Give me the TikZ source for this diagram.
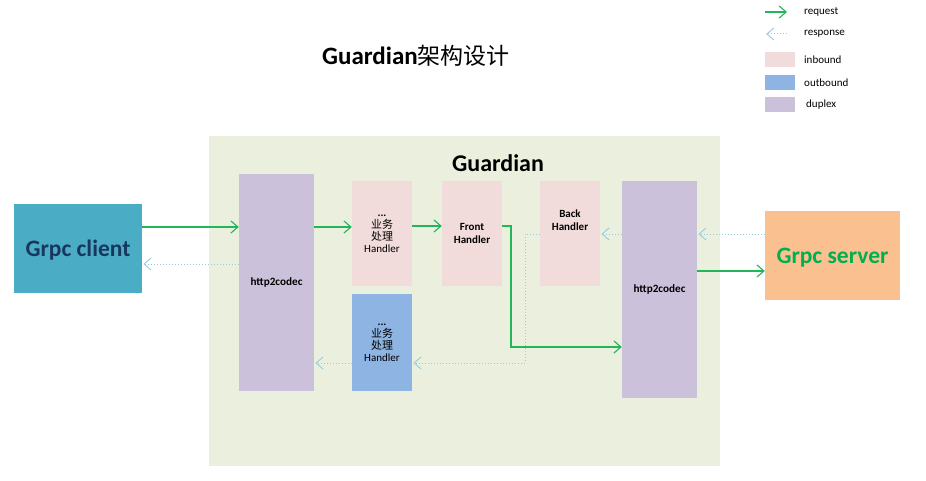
\documentclass[tikz,border=0pt]{standalone}
\usepackage{fontspec}
\setmainfont{Carlito}
\newfontfamily\cjk{Noto Sans CJK SC}
\usetikzlibrary{arrows.meta}
\definecolor{bgG}{HTML}{EBF0DE}
\definecolor{duplexC}{HTML}{CCC1DA}
\definecolor{inC}{HTML}{F2DCDB}
\definecolor{outC}{HTML}{8EB4E3}
\definecolor{clientC}{HTML}{4BACC6}
\definecolor{clientT}{HTML}{17375E}
\definecolor{serverC}{HTML}{FAC090}
\definecolor{serverT}{HTML}{00B050}
\definecolor{reqC}{HTML}{22B55A}
\definecolor{resC}{HTML}{93CDDD}
\tikzset{
  box/.style={rectangle, inner sep=0pt, align=center, font=\fontsize{11}{12}\selectfont},
  req/.style={draw=reqC, line width=1.1pt, -{Straight Barb[length=7pt,width=12pt,line width=1.1pt]}},
  res/.style={draw=resC, line width=1pt, dotted, -{Straight Barb[length=7pt,width=12pt,line width=0.9pt,sep]}},
  legtxt/.style={anchor=west, inner sep=0pt, font=\fontsize{11}{12}\selectfont},
}
\begin{document}
\begin{tikzpicture}[x=1pt,y=-1pt]
\useasboundingbox[fill=white] (0,0) rectangle (926,481);
% title
\node[font=\fontsize{25}{28}\selectfont\bfseries] (title) at (416,56) {Guardian{\cjk\mdseries\fontsize{23}{26}\selectfont 架构设计}};
% background
\node[box, fill=bgG, minimum width=511pt, minimum height=330pt] (guard) at (464.5,301) {};
\node[font=\fontsize{24}{28}\selectfont\bfseries, inner sep=0pt] (guardlbl) at (498,163) {Guardian};
% boxes
\node[box, fill=clientC, minimum width=128pt, minimum height=89pt, font=\fontsize{23.5}{26}\selectfont\bfseries, text=clientT, text depth=0pt] (client) at (78,248.5) {Grpc client};
\node[box, fill=serverC, minimum width=135pt, minimum height=89pt, font=\fontsize{23.5}{26}\selectfont\bfseries, text=serverT, text depth=0pt] (server) at (832.5,255.5) {Grpc server};
\node[box, fill=duplexC, minimum width=75pt, minimum height=217pt, font=\fontsize{11.2}{12}\selectfont\bfseries] (lc) at (276.5,282.5) {http2codec};
\node[box, fill=duplexC, minimum width=75pt, minimum height=217pt, font=\fontsize{11.2}{12}\selectfont\bfseries] (rc) at (659.5,289.5) {http2codec};
\node[box, fill=inC, minimum width=60pt, minimum height=105pt] (ib) at (382,233.5) {\textbf{...}\\{\cjk 业务}\\{\cjk 处理}\\Handler};
\node[box, fill=inC, minimum width=60pt, minimum height=105pt, font=\fontsize{11}{13}\selectfont\bfseries] (fh) at (472,233.5) {Front\\Handler};
\node[box, fill=inC, minimum width=60pt, minimum height=105pt] (bh) at (570,233.5) {};
\node[font=\fontsize{11}{13}\selectfont\bfseries, align=center, inner sep=0pt] (bhlbl) at (570,220) {Back\\Handler};
\node[box, fill=outC, minimum width=60pt, minimum height=97pt] (ob) at (382,342.5) {\textbf{...}\\{\cjk 业务}\\{\cjk 处理}\\Handler};
% request arrows
\draw[req] (client.east |- 0,227) -- (lc.west |- 0,227);
\draw[req] (lc.east |- 0,227) -- (ib.west |- 0,227);
\draw[req] (ib.east |- 0,226) -- (fh.west |- 0,226);
\draw[req] (fh.east |- 0,226) -- (511,226) -- (511,347) -- (rc.west |- 0,347);
\draw[req] (rc.east |- 0,271) -- (server.west |- 0,271);
% response arrows
\draw[res] (server.west |- 0,234) -- (rc.east |- 0,234);
\draw[res] (rc.west |- 0,234) -- (bh.east |- 0,234);
\draw[res] (bh.west |- 0,234) -- (525,234) -- (525,363) -- (ob.east |- 0,363);
\draw[res] (ob.west |- 0,363) -- (lc.east |- 0,363);
\draw[res] (lc.west |- 0,264) -- (client.east |- 0,264);
% legend
\coordinate (lq1) at (765,12); \coordinate (lq2) at (787,12);
\draw[req] (lq1) -- (lq2);
\node[legtxt] (lqt) at (804,12) {request};
\coordinate (lr1) at (787,34); \coordinate (lr2) at (765,34);
\draw[res] (lr1) -- (lr2);
\node[legtxt] (lrt) at (804,34) {response};
\node[box, fill=inC, minimum width=30pt, minimum height=15pt] (lin) at (780,59.5) {};
\node[legtxt] (lint) at (804,59.5) {inbound};
\node[box, fill=outC, minimum width=30pt, minimum height=15pt] (lout) at (780,82.5) {};
\node[legtxt] (loutt) at (804,82.5) {outbound};
\node[box, fill=duplexC, minimum width=30pt, minimum height=15pt] (ldup) at (780,104.5) {};
\node[legtxt] (ldupt) at (806,104.5) {duplex};
\end{tikzpicture}
\end{document}
